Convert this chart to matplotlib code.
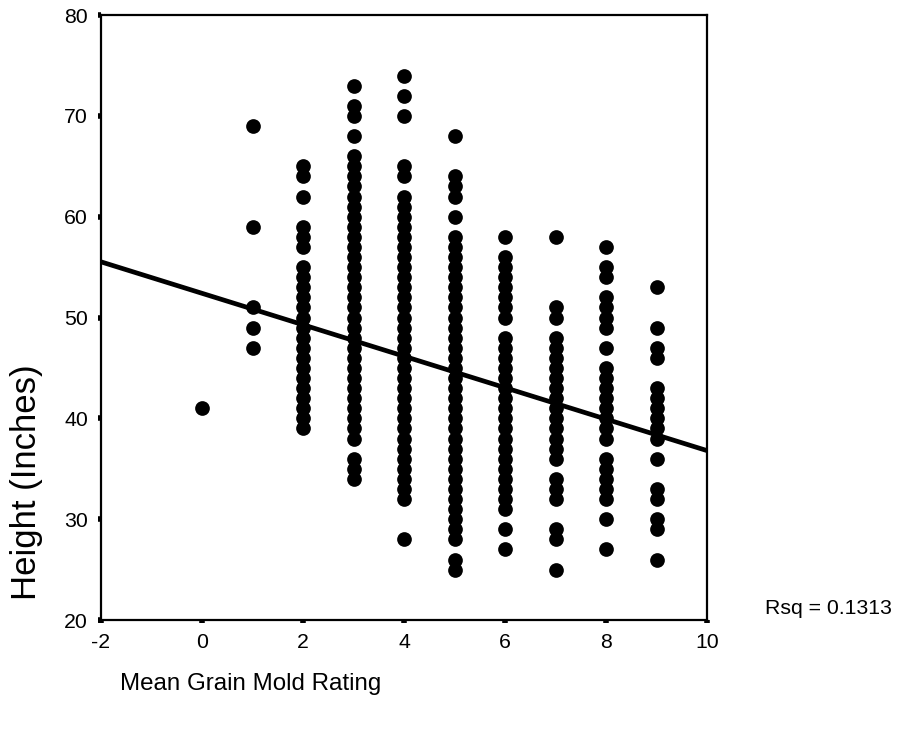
import matplotlib
matplotlib.use("Agg")
import matplotlib.pyplot as plt
import numpy as np

plt.rcParams['font.family'] = ['Liberation Sans', 'DejaVu Sans']

# Heights (inches) observed at each mean grain mold rating
ratings = [0, 1, 2, 3, 4, 5, 6, 7, 8, 9]
h0 = [41]
h1 = [69, 59, 51, 49, 47]
h2 = [65, 64, 62, 59, 58, 57, 55, 54, 53, 52, 51, 50, 49, 48, 47, 46, 45, 44,
      43, 42, 41, 40, 39]
h3 = [73, 71, 70, 68, 66, 65, 64, 63, 62, 61, 60, 59, 58, 57, 56, 55, 54, 53,
      52, 51, 50, 49, 48, 47, 46, 45, 44, 43, 42, 41, 40, 39, 38, 36, 35, 34]
h4 = [74, 72, 70, 65, 64, 62, 61, 60, 59, 58, 57, 56, 55, 54, 53, 52, 51, 50,
      49, 48, 47, 46, 45, 44, 43, 42, 41, 40, 39, 38, 37, 36, 35, 34, 33, 32, 28]
h5 = [68, 64, 63, 62, 60, 58, 57, 56, 55, 54, 53, 52, 51, 50, 49, 48, 47, 46,
      45, 44, 43, 42, 41, 40, 39, 38, 37, 36, 35, 34, 33, 32, 31, 30, 29, 28,
      26, 25]
h6 = [58, 56, 55, 54, 53, 52, 51, 50, 48, 47, 46, 45, 44, 43, 42, 41, 40, 39,
      38, 37, 36, 35, 34, 33, 32, 31, 29, 27]
h7 = [58, 51, 50, 48, 47, 46, 45, 44, 43, 42, 41, 40, 39, 38, 37, 36, 34, 33,
      32, 29, 28, 25]
h8 = [57, 55, 54, 52, 51, 50, 49, 47, 45, 44, 43, 42, 41, 40, 39, 38, 36, 35,
      34, 33, 32, 30, 27]
h9 = [53, 49, 47, 46, 43, 42, 41, 40, 39, 38, 36, 33, 32, 30, 29, 26]
heights = [h0, h1, h2, h3, h4, h5, h6, h7, h8, h9]

# Fitted linear regression line
fit_intercept = 52.4
fit_slope = -1.56
rsq_text = "Rsq = 0.1313"

x_ticks = [-2, 0, 2, 4, 6, 8, 10]
y_ticks = [20, 30, 40, 50, 60, 70, 80]

xs = np.concatenate([[r] * len(h) for r, h in zip(ratings, heights)])
ys = np.concatenate(heights)

fig = plt.figure(figsize=(8.98, 7.3), dpi=100)
ax = fig.add_axes([101 / 898, 110 / 730, 606 / 898, 605 / 730])

ax.scatter(xs, ys, s=112, c='black', linewidths=0, zorder=3, clip_on=False)
line_x = np.array([x_ticks[0], x_ticks[-1]])
ax.plot(line_x, fit_intercept + fit_slope * line_x, color='black', lw=3.4,
        solid_capstyle='butt', zorder=4)

ax.set_xlim(x_ticks[0], x_ticks[-1])
ax.set_ylim(y_ticks[0], y_ticks[-1])
ax.set_xticks(x_ticks)
ax.set_yticks(y_ticks)
ax.set_xticklabels([str(t) for t in x_ticks])
ax.set_yticklabels([str(t) for t in y_ticks])
for s in ax.spines.values():
    s.set_linewidth(1.6)
ax.tick_params(direction='out', length=2.5, width=4, labelsize=15.3,
               colors='black', pad=7)

fig.text(27 / 898, 1 - 482 / 730, "Height (Inches)", rotation=90,
         ha='center', va='center', fontsize=25)
fig.text(120 / 898, 1 - 684 / 730, "Mean Grain Mold Rating",
         ha='left', va='center', fontsize=17.4)
fig.text(765 / 898, 1 - 608 / 730, rsq_text, ha='left', va='center',
         fontsize=15.3)

fig.savefig("out.png", dpi=100)
